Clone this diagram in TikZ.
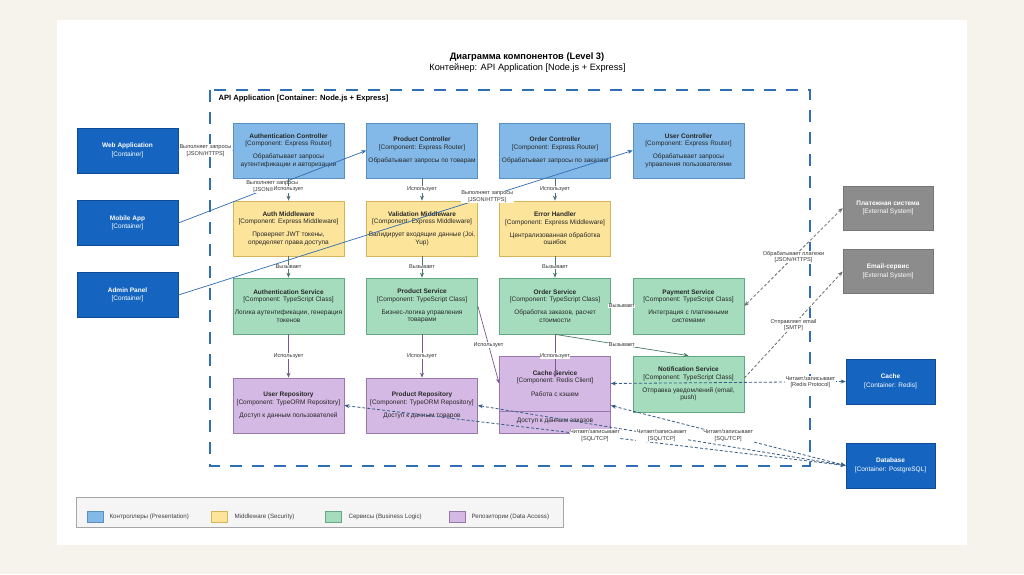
\documentclass[tikz,border=0pt]{standalone}
\usepackage{fontspec}
\setmainfont{Liberation Sans}
\usetikzlibrary{arrows.meta}
\definecolor{fondo}{HTML}{F6F3EC}
\definecolor{contfill}{HTML}{1565C0}
\definecolor{contborde}{HTML}{0F4C97}
\definecolor{ctrlfill}{HTML}{83B9E8}
\definecolor{ctrlborde}{HTML}{5A8FC0}
\definecolor{mwfill}{HTML}{FDE49B}
\definecolor{mwborde}{HTML}{D6B45A}
\definecolor{svcfill}{HTML}{A4DCBD}
\definecolor{svcborde}{HTML}{63A882}
\definecolor{repofill}{HTML}{D4B9E4}
\definecolor{repoborde}{HTML}{9A78AD}
\definecolor{extfill}{HTML}{8C8C8C}
\definecolor{extborde}{HTML}{767676}
\definecolor{marco}{HTML}{2F6FB5}
\definecolor{flechaazul}{HTML}{2F6DB0}
\definecolor{flechagris}{HTML}{4F6F7F}
\definecolor{flechaverde}{HTML}{4C7A66}
\definecolor{flechalila}{HTML}{7A5A8C}
\definecolor{flechadb}{HTML}{355D85}
\definecolor{flechaext}{HTML}{6E6E6E}
\newcommand{\comptxt}[3]{\textbf{#1}\\{#2}\\[6pt]#3}
\tikzset{
  caja/.style={rectangle, minimum width=111pt, minimum height=55pt, inner sep=0pt,
    line width=0.7pt, align=center, font=\fontsize{6.5}{7.3}\selectfont, text=black!85},
  ctrl/.style={caja, fill=ctrlfill, draw=ctrlborde},
  mw/.style={caja, fill=mwfill, draw=mwborde},
  svc/.style={caja, fill=svcfill, draw=svcborde, minimum height=56pt},
  repo/.style={caja, fill=repofill, draw=repoborde},
  contbox/.style={rectangle, minimum width=101pt, minimum height=45pt, fill=contfill,
    draw=contborde, line width=0.7pt, align=center, text=white, font=\fontsize{6.5}{8.5}\selectfont},
  extbox/.style={contbox, fill=extfill, draw=extborde, minimum width=90pt, minimum height=44pt},
  lbl/.style={fill=white, inner sep=0.5pt, align=center, text=black!80,
    font=\fontsize{5.6}{6.3}\selectfont},
  flecha/.style={line width=0.7pt, -{Stealth[length=5pt,width=4pt]}},
  doble/.style={line width=0.8pt, dash pattern=on 3pt off 2pt,
    {Stealth[length=5pt,width=4pt]}-{Stealth[length=5pt,width=4pt]}},
  simple/.style={line width=0.8pt, dash pattern=on 3pt off 2pt, -{Stealth[length=5pt,width=4pt]}},
  muestra/.style={rectangle, minimum width=16pt, minimum height=11pt, line width=0.6pt},
  leyenda/.style={anchor=west, font=\fontsize{6.2}{7}\selectfont, text=black!75}
}
\begin{document}
\begin{tikzpicture}[x=1pt,y=-1pt]
  %Fondo y hoja blanca
  \fill[fondo] (0,0) rectangle (1024,574);
  \fill[white] (57,20) rectangle (967,545);

  %Titulo
  \node (titulo) at (527,57) {\fontsize{9.3}{11}\selectfont\bfseries Диаграмма компонентов (Level 3)};
  \node (subtitulo) at (527.5,68.5) {\fontsize{9.2}{11}\selectfont Контейнер: API Application [Node.js + Express]};

  %Marco del contenedor
  \draw[marco, line width=1.4pt, dash pattern=on 12pt off 10pt] (210,90) rectangle (810,466);
  \node[anchor=west, font=\fontsize{7.6}{9}\selectfont\bfseries] (marcolbl) at (215,98.5)
    {API Application [Container: Node.js + Express]};

  %Contenedores externos (izquierda)
  \node[contbox] (web) at (127.5,150.5) {\textbf{Web Application}\\{[Container]}};
  \node[contbox] (mobile) at (127.5,223) {\textbf{Mobile App}\\{[Container]}};
  \node[contbox] (admin) at (127.5,295) {\textbf{Admin Panel}\\{[Container]}};

  %Controladores
  \node[ctrl] (authctrl) at (288.5,150.5) {\comptxt{Authentication Controller}{[Component: Express Router]}{Обрабатывает запросы\\аутентификации и авторизации}};
  \node[ctrl] (prodctrl) at (422,150.5) {\comptxt{Product Controller}{[Component: Express Router]}{Обрабатывает запросы по товарам}};
  \node[ctrl] (orderctrl) at (555,150.5) {\comptxt{Order Controller}{[Component: Express Router]}{Обрабатывает запросы по заказам}};
  \node[ctrl] (userctrl) at (688.5,150.5) {\comptxt{User Controller}{[Component: Express Router]}{Обрабатывает запросы\\управления пользователями}};

  %Middleware
  \node[mw] (authmw) at (288.5,228.5) {\comptxt{Auth Middleware}{[Component: Express Middleware]}{Проверяет JWT токены,\\определяет права доступа}};
  \node[mw] (valmw) at (422,228.5) {\comptxt{Validation Middleware}{[Component: Express Middleware]}{Валидирует входящие данные (Joi,\\Yup)}};
  \node[mw] (errmw) at (555,228.5) {\comptxt{Error Handler}{[Component: Express Middleware]}{Централизованная обработка\\ошибок}};

  %Servicios
  \node[svc] (authsvc) at (288.5,306) {\comptxt{Authentication Service}{[Component: TypeScript Class]}{Логика аутентификации, генерация\\токенов}};
  \node[svc] (prodsvc) at (422,306) {\comptxt{Product Service}{[Component: TypeScript Class]}{Бизнес-логика управления\\товарами}};
  \node[svc] (ordersvc) at (555,306) {\comptxt{Order Service}{[Component: TypeScript Class]}{Обработка заказов, расчет\\стоимости}};
  \node[svc] (paysvc) at (688.5,306) {\comptxt{Payment Service}{[Component: TypeScript Class]}{Интеграция с платежными\\системами}};

  %Repositorios (el de pedidos queda detras del cache)
  \node[repo] (userrepo) at (288.5,405.5) {\comptxt{User Repository}{[Component: TypeORM Repository]}{Доступ к данным пользователей}};
  \node[repo] (prodrepo) at (422,405.5) {\comptxt{Product Repository}{[Component: TypeORM Repository]}{Доступ к данным товаров}};
  \node[repo] (orderrepo) at (555,405.5) {};
  \node[caja, minimum height=0pt] (orderrepotxt) at (555,420.5) {Доступ к данным заказов};
  \node[repo] (cachesvc) at (555,383.5) {\comptxt{Cache Service}{[Component: Redis Client]}{Работа с кэшем}};
  \node[svc] (notif) at (688.5,384) {\comptxt{Notification Service}{[Component: TypeScript Class]}{Отправка уведомлений (email,\\push)}};

  %Sistemas externos y contenedores (derecha)
  \node[extbox] (paysys) at (888,208) {\textbf{Платежная система}\\{[External System]}};
  \node[extbox] (emailsys) at (888,271.5) {\textbf{Email-сервис}\\{[External System]}};
  \node[contbox, minimum width=89pt] (redis) at (890.5,381.5) {\textbf{Cache}\\{[Container: Redis]}};
  \node[contbox, minimum width=89pt] (db) at (890.5,465.5) {\textbf{Database}\\{[Container: PostgreSQL]}};

  %Peticiones de los clientes
  \draw[flecha, flechaazul] (web) -- node[lbl] {Выполняет запросы\\{[JSON/HTTPS]}} (authctrl);
  \draw[flecha, flechaazul] (mobile.east) -- node[lbl] {Выполняет запросы\\{[JSON/HTTPS]}} (prodctrl.west);
  \draw[flecha, flechaazul] (admin.east) -- node[lbl, pos=0.68] {Выполняет запросы\\{[JSON/HTTPS]}} (userctrl.west);

  %Controlador -> middleware
  \draw[flecha, flechagris] (authctrl) -- node[lbl] {Использует} (authmw);
  \draw[flecha, flechagris] (prodctrl) -- node[lbl] {Использует} (valmw);
  \draw[flecha, flechagris] (orderctrl) -- node[lbl] {Использует} (errmw);

  %Middleware -> servicio
  \draw[flecha, flechaverde] (authmw) -- node[lbl] {Вызывает} (authsvc);
  \draw[flecha, flechaverde] (valmw) -- node[lbl] {Вызывает} (prodsvc);
  \draw[flecha, flechaverde] (errmw) -- node[lbl] {Вызывает} (ordersvc);
  \draw[flecha, flechaverde] (ordersvc) -- node[lbl] {Вызывает} (paysvc);
  \draw[flecha, flechaverde] (ordersvc.south) -- node[lbl] {Вызывает} (notif.north);

  %Servicio -> repositorio
  \draw[flecha, flechalila] (authsvc) -- node[lbl] {Использует} (userrepo);
  \draw[flecha, flechalila] (prodsvc) -- node[lbl] {Использует} (prodrepo);
  \draw[flecha, flechalila] (ordersvc.south) -- node[lbl] {Использует} (orderrepo.north);
  \draw[flecha, flechalila] (prodsvc.east) -- node[lbl] {Использует} (cachesvc.west);

  %Acceso a datos
  \draw[doble, flechadb] (cachesvc.east) -- node[lbl, pos=0.85] {Читает/записывает\\{[Redis Protocol]}} (redis.west);
  \draw[doble, flechadb] (userrepo.east) -- node[lbl] {Читает/записывает\\{[SQL/TCP]}} (db.west);
  \draw[doble, flechadb] (prodrepo.east) -- node[lbl] {Читает/записывает\\{[SQL/TCP]}} (db.west);
  \draw[doble, flechadb] (orderrepo.east) -- node[lbl] {Читает/записывает\\{[SQL/TCP]}} (db.west);

  %Sistemas externos
  \draw[doble, flechaext] (paysvc.east) -- node[lbl] {Обрабатывает платежи\\{[JSON/HTTPS]}} (paysys.west);
  \draw[simple, flechaext] ([yshift=6pt]notif.east) -- node[lbl] {Отправляет email\\{[SMTP]}} (emailsys.west);

  %Leyenda
  \draw[black!35, fill=black!4, line width=0.6pt] (76,497) rectangle (563,527);
  \node[muestra, fill=ctrlfill, draw=ctrlborde] (mctrl) at (95,516.5) {};
  \node[leyenda] (lctrl) at (106,516.5) {Контроллеры (Presentation)};
  \node[muestra, fill=mwfill, draw=mwborde] (mmw) at (219.5,516.5) {};
  \node[leyenda] (lmw) at (231,516.5) {Middleware (Security)};
  \node[muestra, fill=svcfill, draw=svcborde] (msvc) at (333,516.5) {};
  \node[leyenda] (lsvc) at (345,516.5) {Сервисы (Business Logic)};
  \node[muestra, fill=repofill, draw=repoborde] (mrepo) at (457,516.5) {};
  \node[leyenda] (lrepo) at (468,516.5) {Репозитории (Data Access)};
\end{tikzpicture}
\end{document}
